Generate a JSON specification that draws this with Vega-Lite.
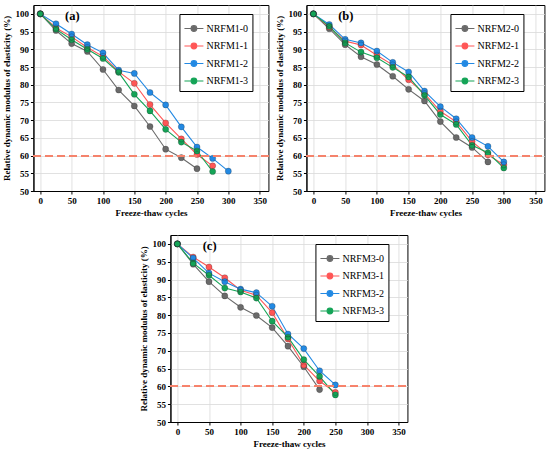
{
  "$schema": "https://vega.github.io/schema/vega-lite/v6.json",
  "background": "white",
  "padding": {"left": 2, "top": 4, "right": 0, "bottom": 0},
  "datasets": {
    "a": [
      {"s": "NRFM1-0", "x": 0, "y": 100}, {"s": "NRFM1-0", "x": 25, "y": 95.3}, {"s": "NRFM1-0", "x": 50, "y": 91.6}, {"s": "NRFM1-0", "x": 75, "y": 89.4}, {"s": "NRFM1-0", "x": 100, "y": 84.3}, {"s": "NRFM1-0", "x": 125, "y": 78.5}, {"s": "NRFM1-0", "x": 150, "y": 74.0}, {"s": "NRFM1-0", "x": 175, "y": 68.2}, {"s": "NRFM1-0", "x": 200, "y": 61.8}, {"s": "NRFM1-0", "x": 225, "y": 59.4}, {"s": "NRFM1-0", "x": 250, "y": 56.3},
      {"s": "NRFM1-1", "x": 0, "y": 100}, {"s": "NRFM1-1", "x": 25, "y": 96.0}, {"s": "NRFM1-1", "x": 50, "y": 93.5}, {"s": "NRFM1-1", "x": 75, "y": 90.5}, {"s": "NRFM1-1", "x": 100, "y": 88.0}, {"s": "NRFM1-1", "x": 125, "y": 83.7}, {"s": "NRFM1-1", "x": 150, "y": 80.4}, {"s": "NRFM1-1", "x": 175, "y": 74.4}, {"s": "NRFM1-1", "x": 200, "y": 69.2}, {"s": "NRFM1-1", "x": 225, "y": 64.7}, {"s": "NRFM1-1", "x": 250, "y": 60.3}, {"s": "NRFM1-1", "x": 275, "y": 57.1},
      {"s": "NRFM1-2", "x": 0, "y": 100}, {"s": "NRFM1-2", "x": 25, "y": 97.2}, {"s": "NRFM1-2", "x": 50, "y": 94.3}, {"s": "NRFM1-2", "x": 75, "y": 91.3}, {"s": "NRFM1-2", "x": 100, "y": 89.0}, {"s": "NRFM1-2", "x": 125, "y": 84.1}, {"s": "NRFM1-2", "x": 150, "y": 83.2}, {"s": "NRFM1-2", "x": 175, "y": 77.8}, {"s": "NRFM1-2", "x": 200, "y": 74.3}, {"s": "NRFM1-2", "x": 225, "y": 68.1}, {"s": "NRFM1-2", "x": 250, "y": 62.4}, {"s": "NRFM1-2", "x": 275, "y": 59.2}, {"s": "NRFM1-2", "x": 300, "y": 55.6},
      {"s": "NRFM1-3", "x": 0, "y": 100}, {"s": "NRFM1-3", "x": 25, "y": 95.7}, {"s": "NRFM1-3", "x": 50, "y": 92.7}, {"s": "NRFM1-3", "x": 75, "y": 90.0}, {"s": "NRFM1-3", "x": 100, "y": 87.4}, {"s": "NRFM1-3", "x": 125, "y": 83.5}, {"s": "NRFM1-3", "x": 150, "y": 77.3}, {"s": "NRFM1-3", "x": 175, "y": 72.6}, {"s": "NRFM1-3", "x": 200, "y": 67.4}, {"s": "NRFM1-3", "x": 225, "y": 63.8}, {"s": "NRFM1-3", "x": 250, "y": 61.3}, {"s": "NRFM1-3", "x": 275, "y": 55.5}
    ],
    "b": [
      {"s": "NRFM2-0", "x": 0, "y": 100}, {"s": "NRFM2-0", "x": 25, "y": 95.8}, {"s": "NRFM2-0", "x": 50, "y": 91.3}, {"s": "NRFM2-0", "x": 75, "y": 87.9}, {"s": "NRFM2-0", "x": 100, "y": 85.7}, {"s": "NRFM2-0", "x": 125, "y": 82.4}, {"s": "NRFM2-0", "x": 150, "y": 78.7}, {"s": "NRFM2-0", "x": 175, "y": 75.4}, {"s": "NRFM2-0", "x": 200, "y": 69.6}, {"s": "NRFM2-0", "x": 225, "y": 65.1}, {"s": "NRFM2-0", "x": 250, "y": 62.3}, {"s": "NRFM2-0", "x": 275, "y": 58.2},
      {"s": "NRFM2-1", "x": 0, "y": 100}, {"s": "NRFM2-1", "x": 25, "y": 96.3}, {"s": "NRFM2-1", "x": 50, "y": 92.3}, {"s": "NRFM2-1", "x": 75, "y": 91.2}, {"s": "NRFM2-1", "x": 100, "y": 88.3}, {"s": "NRFM2-1", "x": 125, "y": 85.6}, {"s": "NRFM2-1", "x": 150, "y": 81.4}, {"s": "NRFM2-1", "x": 175, "y": 77.5}, {"s": "NRFM2-1", "x": 200, "y": 72.5}, {"s": "NRFM2-1", "x": 225, "y": 69.5}, {"s": "NRFM2-1", "x": 250, "y": 64.0}, {"s": "NRFM2-1", "x": 275, "y": 60.2}, {"s": "NRFM2-1", "x": 300, "y": 57.4},
      {"s": "NRFM2-2", "x": 0, "y": 100}, {"s": "NRFM2-2", "x": 25, "y": 97.0}, {"s": "NRFM2-2", "x": 50, "y": 92.8}, {"s": "NRFM2-2", "x": 75, "y": 91.8}, {"s": "NRFM2-2", "x": 100, "y": 89.5}, {"s": "NRFM2-2", "x": 125, "y": 86.3}, {"s": "NRFM2-2", "x": 150, "y": 83.6}, {"s": "NRFM2-2", "x": 175, "y": 78.2}, {"s": "NRFM2-2", "x": 200, "y": 73.8}, {"s": "NRFM2-2", "x": 225, "y": 70.4}, {"s": "NRFM2-2", "x": 250, "y": 65.1}, {"s": "NRFM2-2", "x": 275, "y": 62.6}, {"s": "NRFM2-2", "x": 300, "y": 58.2},
      {"s": "NRFM2-3", "x": 0, "y": 100}, {"s": "NRFM2-3", "x": 25, "y": 96.5}, {"s": "NRFM2-3", "x": 50, "y": 91.8}, {"s": "NRFM2-3", "x": 75, "y": 89.2}, {"s": "NRFM2-3", "x": 100, "y": 87.6}, {"s": "NRFM2-3", "x": 125, "y": 84.9}, {"s": "NRFM2-3", "x": 150, "y": 82.2}, {"s": "NRFM2-3", "x": 175, "y": 77.0}, {"s": "NRFM2-3", "x": 200, "y": 71.6}, {"s": "NRFM2-3", "x": 225, "y": 68.8}, {"s": "NRFM2-3", "x": 250, "y": 62.9}, {"s": "NRFM2-3", "x": 275, "y": 60.8}, {"s": "NRFM2-3", "x": 300, "y": 56.5}
    ],
    "c": [
      {"s": "NRFM3-0", "x": 0, "y": 100}, {"s": "NRFM3-0", "x": 25, "y": 94.3}, {"s": "NRFM3-0", "x": 50, "y": 89.4}, {"s": "NRFM3-0", "x": 75, "y": 85.4}, {"s": "NRFM3-0", "x": 100, "y": 82.2}, {"s": "NRFM3-0", "x": 125, "y": 79.9}, {"s": "NRFM3-0", "x": 150, "y": 76.5}, {"s": "NRFM3-0", "x": 175, "y": 71.3}, {"s": "NRFM3-0", "x": 200, "y": 65.5}, {"s": "NRFM3-0", "x": 225, "y": 59.1},
      {"s": "NRFM3-1", "x": 0, "y": 100}, {"s": "NRFM3-1", "x": 25, "y": 96.3}, {"s": "NRFM3-1", "x": 50, "y": 93.5}, {"s": "NRFM3-1", "x": 75, "y": 90.5}, {"s": "NRFM3-1", "x": 100, "y": 87.0}, {"s": "NRFM3-1", "x": 125, "y": 85.6}, {"s": "NRFM3-1", "x": 150, "y": 80.7}, {"s": "NRFM3-1", "x": 175, "y": 73.3}, {"s": "NRFM3-1", "x": 200, "y": 66.0}, {"s": "NRFM3-1", "x": 225, "y": 61.5}, {"s": "NRFM3-1", "x": 250, "y": 58.3},
      {"s": "NRFM3-2", "x": 0, "y": 100}, {"s": "NRFM3-2", "x": 25, "y": 96.0}, {"s": "NRFM3-2", "x": 50, "y": 91.8}, {"s": "NRFM3-2", "x": 75, "y": 89.4}, {"s": "NRFM3-2", "x": 100, "y": 87.3}, {"s": "NRFM3-2", "x": 125, "y": 86.3}, {"s": "NRFM3-2", "x": 150, "y": 82.5}, {"s": "NRFM3-2", "x": 175, "y": 74.7}, {"s": "NRFM3-2", "x": 200, "y": 70.6}, {"s": "NRFM3-2", "x": 225, "y": 64.4}, {"s": "NRFM3-2", "x": 250, "y": 60.4},
      {"s": "NRFM3-3", "x": 0, "y": 100}, {"s": "NRFM3-3", "x": 25, "y": 94.6}, {"s": "NRFM3-3", "x": 50, "y": 91.2}, {"s": "NRFM3-3", "x": 75, "y": 87.6}, {"s": "NRFM3-3", "x": 100, "y": 86.5}, {"s": "NRFM3-3", "x": 125, "y": 84.8}, {"s": "NRFM3-3", "x": 150, "y": 78.3}, {"s": "NRFM3-3", "x": 175, "y": 73.8}, {"s": "NRFM3-3", "x": 200, "y": 67.5}, {"s": "NRFM3-3", "x": 225, "y": 62.8}, {"s": "NRFM3-3", "x": 250, "y": 57.6}
    ]
  },
  "vconcat": [
    {
      "hconcat": [
        {
          "width": 235, "height": 186,
          "data": {"name": "a"},
          "encoding": {
            "x": {"field": "x", "type": "quantitative", "scale": {"domain": [-11, 364], "nice": false, "zero": false}, "axis": {"values": [0, 50, 100, 150, 200, 250, 300, 350], "title": "Freeze-thaw cycles", "labelOverlap": false, "labelSeparation": -20}},
            "y": {"field": "y", "type": "quantitative", "scale": {"domain": [50, 102.5], "nice": false, "zero": false}, "axis": {"values": [50, 55, 60, 65, 70, 75, 80, 85, 90, 95, 100], "title": "Relative dynamic modulus of elasticity (%)", "labelOverlap": false, "labelSeparation": -20}},
            "color": {"field": "s", "type": "nominal", "scale": {"domain": ["NRFM1-0", "NRFM1-1", "NRFM1-2", "NRFM1-3"], "range": ["#6a6a6a", "#ff5656", "#2289e3", "#14a457"]},
              "legend": {"orient": "none", "legendX": 146, "legendY": 9, "title": null, "labelFont": "Liberation Serif", "symbolType": "M-1,0H-0.3M0.3,0H1M0.3,0A0.3,0.3,0,1,1,-0.3,0A0.3,0.3,0,1,1,0.3,0Z", "symbolSize": 360, "encode": {"symbols": {"update": {"shape": {"value": "M-1,0H-0.3M0.3,0H1M0.3,0A0.3,0.3,0,1,1,-0.3,0A0.3,0.3,0,1,1,0.3,0Z"}, "size": {"value": 360}}}}}}
          },
          "layer": [
            {"mark": {"type": "line", "strokeWidth": 1.1}},
            {"mark": {"type": "point", "filled": true, "size": 38, "opacity": 1}},
            {"mark": {"type": "point", "filled": false, "size": 38, "stroke": "#222222", "strokeWidth": 0.6, "strokeOpacity": 0.6}, "encoding": {"color": {"value": "#222222"}}},
            {"mark": {"type": "rule", "strokeDash": [7, 5], "strokeWidth": 1.3}, "encoding": {"x": {"value": 0}, "x2": {"value": 235}, "y": {"datum": 60, "type": "quantitative"}, "color": {"value": "#f5826c"}}},
            {"transform": [{"filter": "datum.x == 0 && datum.s == 'NRFM1-0'"}], "mark": {"type": "text", "text": "(a)", "font": "Liberation Serif", "fontSize": 12.5, "fontWeight": "bold"}, "encoding": {"x": {"datum": 51, "type": "quantitative"}, "y": {"datum": 99.3, "type": "quantitative"}, "color": {"value": "black"}}}
          ]
        },
        {
          "width": 238, "height": 186,
          "data": {"name": "b"},
          "encoding": {
            "x": {"field": "x", "type": "quantitative", "scale": {"domain": [-11, 364], "nice": false, "zero": false}, "axis": {"values": [0, 50, 100, 150, 200, 250, 300, 350], "title": "Freeze-thaw cycles", "labelOverlap": false, "labelSeparation": -20}},
            "y": {"field": "y", "type": "quantitative", "scale": {"domain": [50, 102.5], "nice": false, "zero": false}, "axis": {"values": [50, 55, 60, 65, 70, 75, 80, 85, 90, 95, 100], "title": "Relative dynamic modulus of elasticity (%)", "labelOverlap": false, "labelSeparation": -20}},
            "color": {"field": "s", "type": "nominal", "scale": {"domain": ["NRFM2-0", "NRFM2-1", "NRFM2-2", "NRFM2-3"], "range": ["#6a6a6a", "#ff5656", "#2289e3", "#14a457"]},
              "legend": {"orient": "none", "legendX": 144, "legendY": 9, "title": null, "labelFont": "Liberation Serif", "symbolType": "M-1,0H-0.3M0.3,0H1M0.3,0A0.3,0.3,0,1,1,-0.3,0A0.3,0.3,0,1,1,0.3,0Z", "symbolSize": 360, "encode": {"symbols": {"update": {"shape": {"value": "M-1,0H-0.3M0.3,0H1M0.3,0A0.3,0.3,0,1,1,-0.3,0A0.3,0.3,0,1,1,0.3,0Z"}, "size": {"value": 360}}}}}}
          },
          "layer": [
            {"mark": {"type": "line", "strokeWidth": 1.1}},
            {"mark": {"type": "point", "filled": true, "size": 38, "opacity": 1}},
            {"mark": {"type": "point", "filled": false, "size": 38, "stroke": "#222222", "strokeWidth": 0.6, "strokeOpacity": 0.6}, "encoding": {"color": {"value": "#222222"}}},
            {"mark": {"type": "rule", "strokeDash": [7, 5], "strokeWidth": 1.3}, "encoding": {"x": {"value": 0}, "x2": {"value": 238}, "y": {"datum": 60, "type": "quantitative"}, "color": {"value": "#f5826c"}}},
            {"transform": [{"filter": "datum.x == 0 && datum.s == 'NRFM2-0'"}], "mark": {"type": "text", "text": "(b)", "font": "Liberation Serif", "fontSize": 12.5, "fontWeight": "bold"}, "encoding": {"x": {"datum": 51, "type": "quantitative"}, "y": {"datum": 99.3, "type": "quantitative"}, "color": {"value": "black"}}}
          ]
        }
      ],
      "spacing": 5,
      "resolve": {"scale": {"color": "independent", "x": "independent", "y": "independent"}, "legend": {"color": "independent"}}
    },
    {
      "width": 237, "height": 187,
      "data": {"name": "c"},
      "encoding": {
        "x": {"field": "x", "type": "quantitative", "scale": {"domain": [-11, 364], "nice": false, "zero": false}, "axis": {"values": [0, 50, 100, 150, 200, 250, 300, 350], "title": "Freeze-thaw cycles", "labelOverlap": false, "labelSeparation": -20}},
        "y": {"field": "y", "type": "quantitative", "scale": {"domain": [50, 102.5], "nice": false, "zero": false}, "axis": {"values": [50, 55, 60, 65, 70, 75, 80, 85, 90, 95, 100], "title": "Relative dynamic modulus of elasticity (%)", "labelOverlap": false, "labelSeparation": -20}},
        "color": {"field": "s", "type": "nominal", "scale": {"domain": ["NRFM3-0", "NRFM3-1", "NRFM3-2", "NRFM3-3"], "range": ["#6a6a6a", "#ff5656", "#2289e3", "#14a457"]},
          "legend": {"orient": "none", "legendX": 145, "legendY": 9, "title": null, "labelFont": "Liberation Serif", "symbolType": "M-1,0H-0.3M0.3,0H1M0.3,0A0.3,0.3,0,1,1,-0.3,0A0.3,0.3,0,1,1,0.3,0Z", "symbolSize": 360, "encode": {"symbols": {"update": {"shape": {"value": "M-1,0H-0.3M0.3,0H1M0.3,0A0.3,0.3,0,1,1,-0.3,0A0.3,0.3,0,1,1,0.3,0Z"}, "size": {"value": 360}}}}}}
      },
      "layer": [
        {"mark": {"type": "line", "strokeWidth": 1.1}},
        {"mark": {"type": "point", "filled": true, "size": 38, "opacity": 1}},
        {"mark": {"type": "point", "filled": false, "size": 38, "stroke": "#222222", "strokeWidth": 0.6, "strokeOpacity": 0.6}, "encoding": {"color": {"value": "#222222"}}},
        {"mark": {"type": "rule", "strokeDash": [7, 5], "strokeWidth": 1.3}, "encoding": {"x": {"value": 0}, "x2": {"value": 237}, "y": {"datum": 60, "type": "quantitative"}, "color": {"value": "#f5826c"}}},
        {"transform": [{"filter": "datum.x == 0 && datum.s == 'NRFM3-0'"}], "mark": {"type": "text", "text": "(c)", "font": "Liberation Serif", "fontSize": 12.5, "fontWeight": "bold"}, "encoding": {"x": {"datum": 51, "type": "quantitative"}, "y": {"datum": 99.3, "type": "quantitative"}, "color": {"value": "black"}}}
      ]
    }
  ],
  "spacing": 16,
  "center": true,
  "resolve": {"scale": {"color": "independent", "x": "independent", "y": "independent"}, "legend": {"color": "independent"}},
  "config": {
    "font": "Liberation Serif",
    "view": {"stroke": "black", "strokeWidth": 1},
    "axis": {
      "labelFont": "Liberation Serif", "labelFontWeight": "bold", "labelFontSize": 9, "labelColor": "black",
      "titleFont": "Liberation Serif", "titleFontWeight": "bold", "titleFontSize": 9, "titleColor": "black",
      "domainColor": "black", "tickColor": "black", "tickSize": 3, "labelPadding": 2, "titlePadding": 3,
      "grid": true, "gridColor": "#d9d9d9", "gridWidth": 0.8
    },
    "legend": {
      "labelFont": "Liberation Serif", "labelFontSize": 10, "labelColor": "black",
      "strokeColor": "black", "fillColor": "white", "padding": 4, "rowPadding": 1.5, "cornerRadius": 0,
      "symbolStrokeWidth": 1.1, "labelOffset": 2
    }
  }
}
